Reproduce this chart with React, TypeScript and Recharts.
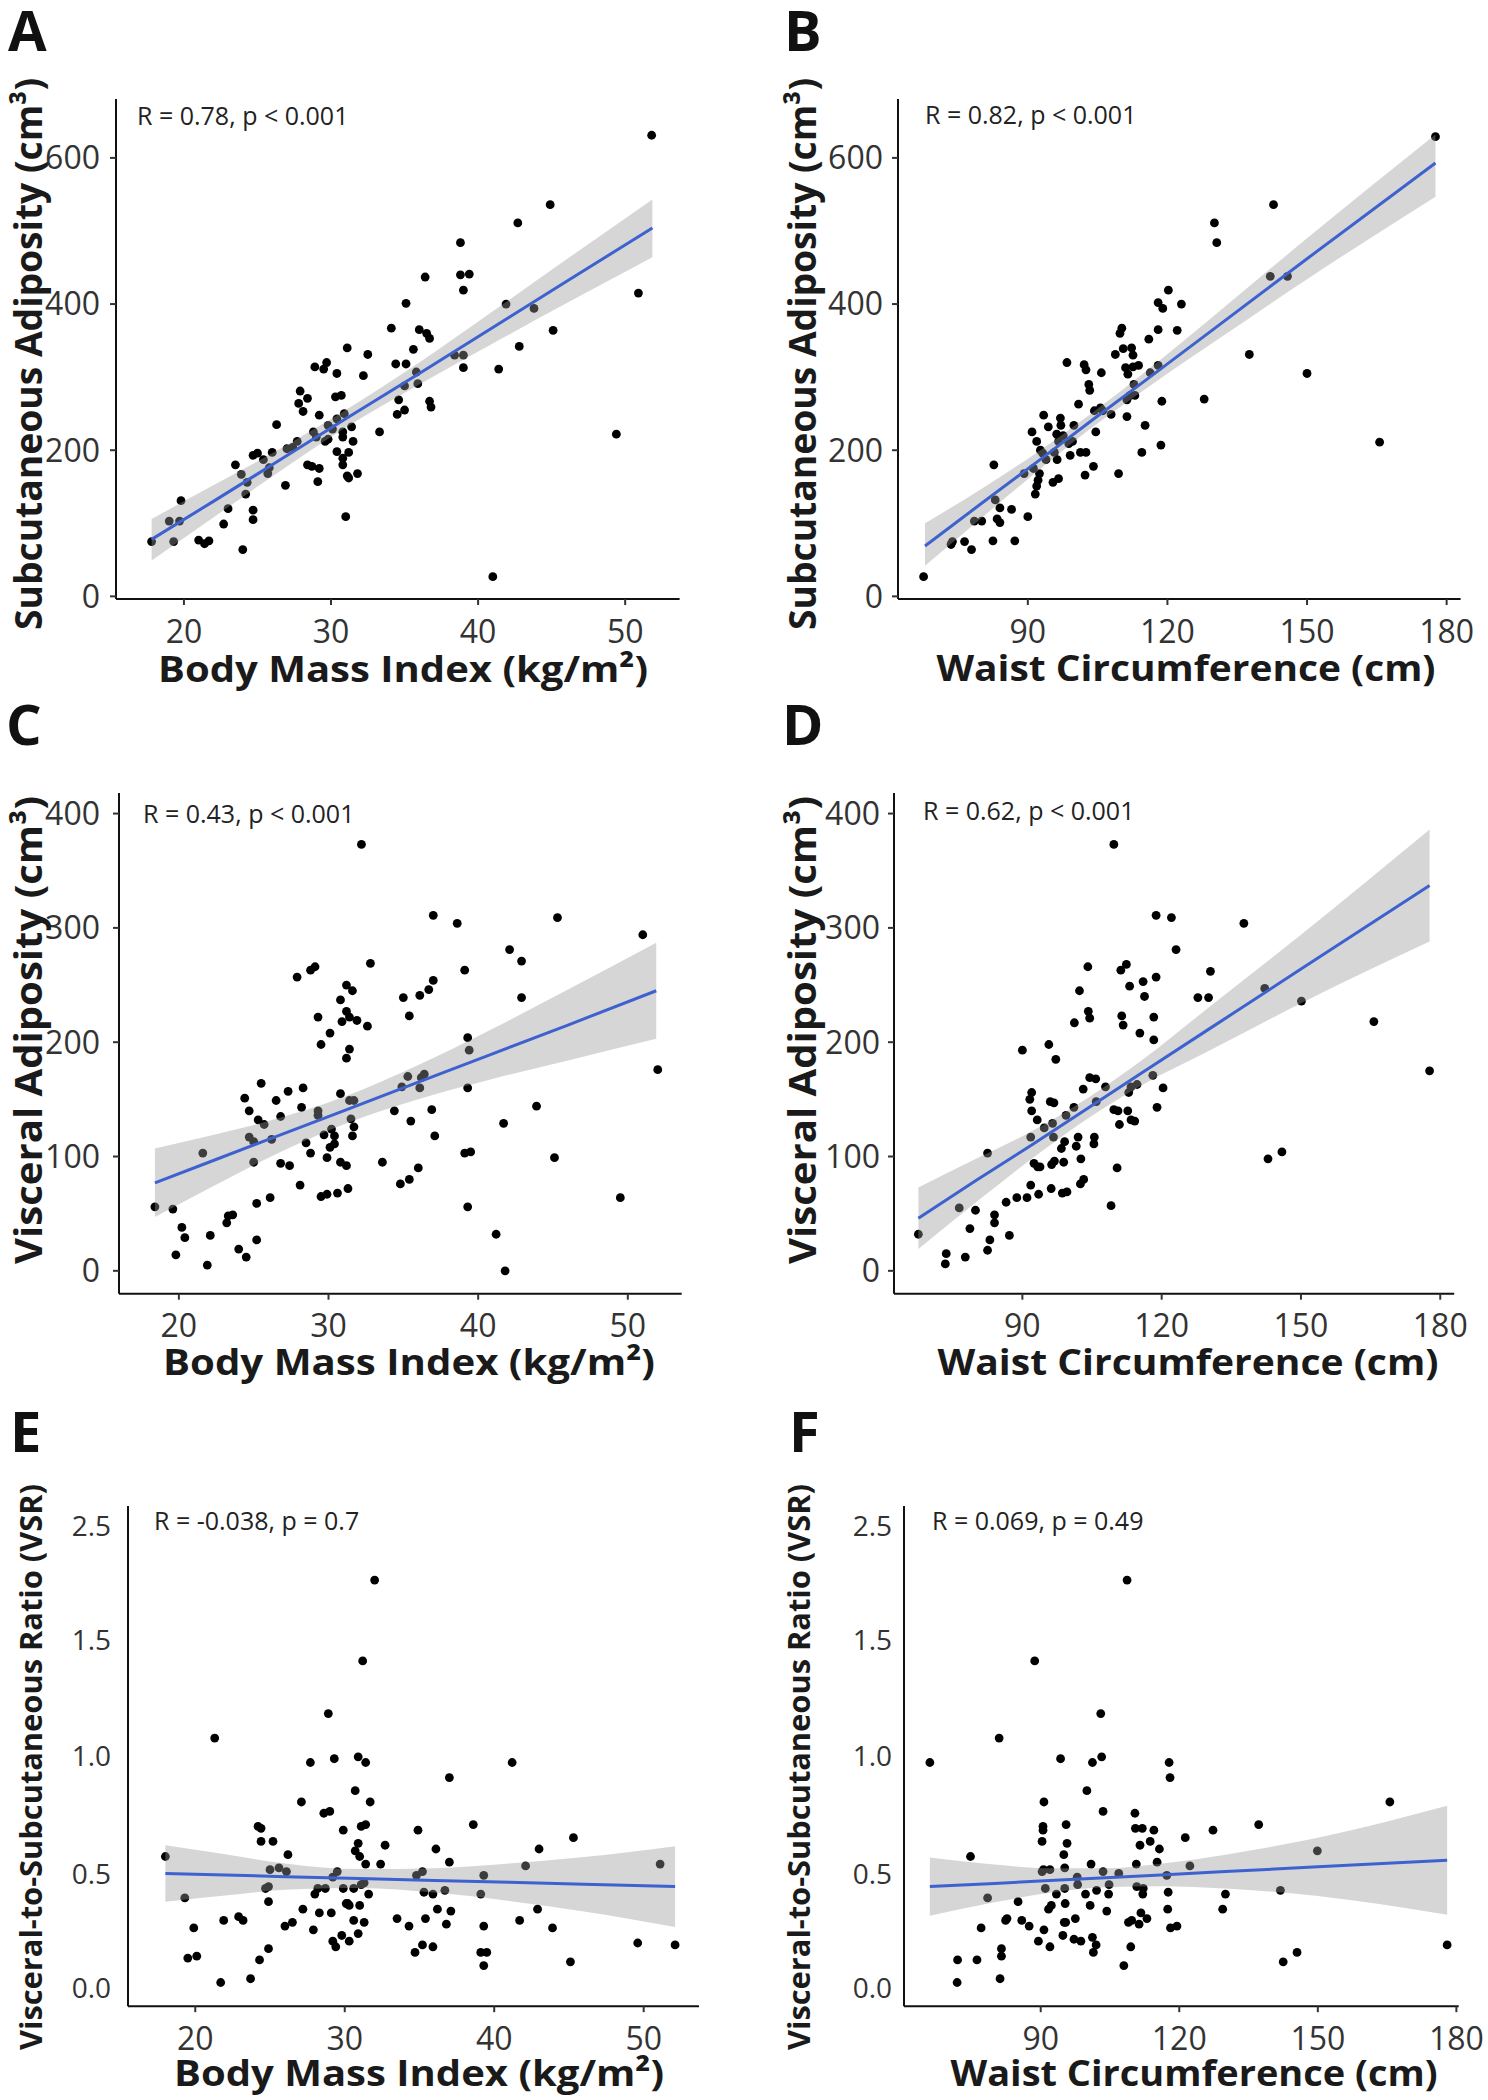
import React from 'react';
import { ComposedChart, Scatter, Area, Line, XAxis, YAxis, ReferenceLine } from 'recharts';

const FONT = '"Open Sans", "Noto Sans", sans-serif';
const INK = '#333333';
const FIT_BLUE = '#3D62CF';

// ---- A: BMI vs subcutaneous adiposity ----
const ptsA: [number, number][] = [
  [17.8, 75], [19.0, 103], [19.3, 75], [19.7, 103], [19.8, 131], [21.0, 77], [21.4, 72], [21.7, 76], [22.7, 99], [23.0, 120],
  [23.5, 180], [24.0, 64], [23.9, 167], [24.2, 140], [24.3, 156], [24.7, 118], [24.7, 105], [24.7, 193], [25.0, 196], [25.4, 187],
  [25.7, 168], [25.8, 176], [26.0, 197], [26.3, 235], [26.9, 152], [27.0, 202], [27.4, 204], [27.7, 212], [27.8, 264], [27.9, 281],
  [28.1, 253], [28.4, 271], [28.4, 180], [28.7, 178], [28.8, 225], [29.0, 218], [28.9, 314], [29.1, 157], [29.2, 248], [29.2, 175],
  [29.5, 311], [29.7, 320], [29.6, 212], [29.8, 215], [29.8, 234], [30.1, 229], [30.3, 273], [30.4, 305], [30.4, 198], [30.4, 243],
  [30.7, 275], [30.8, 225], [30.8, 189], [30.8, 180], [30.8, 218], [30.9, 250], [31.0, 109], [31.1, 340], [31.2, 197], [31.1, 165],
  [31.2, 162], [31.4, 232], [31.5, 212], [31.8, 168], [32.2, 302], [32.5, 331], [33.3, 225], [34.1, 367], [34.4, 318], [34.5, 249],
  [34.6, 269], [35.0, 255], [35.1, 401], [35.1, 318], [35.0, 288], [35.6, 338], [35.8, 307], [35.9, 291], [36.0, 365], [36.4, 437],
  [36.5, 360], [36.7, 353], [36.7, 267], [36.8, 259], [38.4, 330], [38.8, 484], [38.8, 440], [39.0, 330], [39.0, 419], [39.0, 313],
  [39.4, 441], [41.0, 27], [41.4, 311], [41.9, 400], [42.7, 511], [42.8, 342], [43.8, 394], [44.9, 536], [45.1, 364], [49.4, 222],
  [50.9, 415], [51.8, 631],
];
const fitXA = [17.8, 22, 26, 31, 36, 41, 46, 51.85];
const fitA = [78, 130, 180, 243, 305, 368, 431, 504];
const loA = [49, 108, 164, 231, 290, 346, 401, 464];
const hiA = [106, 152, 196, 255, 320, 390, 461, 543];

// ---- B: waist vs subcutaneous adiposity ----
const ptsB: [number, number][] = [
  [67.6, 27], [73.5, 71], [73.8, 75], [76.4, 75], [77.9, 64], [78.5, 103], [80.1, 103], [82.5, 76], [82.7, 180], [83.0, 132],
  [83.4, 106], [84.0, 121], [84.0, 101], [86.5, 119], [87.2, 76], [90.0, 109], [89.2, 168], [90.9, 225], [91.2, 175], [91.9, 212],
  [91.6, 140], [91.9, 151], [92.2, 159], [92.5, 168], [92.7, 200], [93.2, 196], [93.4, 248], [93.9, 187], [94.4, 232], [95.4, 156],
  [95.7, 197], [96.2, 222], [96.3, 187], [96.6, 161], [97.0, 244], [96.6, 212], [97.1, 234], [97.6, 220], [98.4, 320], [98.8, 209],
  [99.1, 193], [99.6, 212], [99.9, 234], [100.9, 263], [101.3, 197], [102.1, 317], [102.3, 166], [102.5, 197], [102.5, 310], [103.1, 290],
  [103.3, 282], [104.1, 178], [104.3, 254], [104.6, 225], [105.6, 258], [105.8, 306], [106.1, 254], [107.9, 249], [108.8, 331], [109.5, 168],
  [109.8, 360], [110.2, 367], [110.5, 339], [111.0, 313], [111.3, 246], [111.3, 269], [111.5, 304], [112.0, 275], [112.3, 340], [112.6, 330],
  [112.6, 314], [113.0, 275], [112.8, 290], [113.8, 316], [114.5, 197], [115.2, 234], [116.0, 352], [116.3, 306], [118.0, 365], [118.0, 402],
  [118.0, 316], [118.6, 207], [118.8, 267], [119.0, 394], [120.2, 419], [122.1, 364], [123.0, 400], [127.9, 270], [130.1, 511], [130.6, 484],
  [137.6, 331], [142.1, 438], [142.8, 536], [145.8, 438], [150.0, 305], [165.6, 211], [177.6, 629],
];
const fitXB = [67.9, 80, 92, 104, 116, 130, 150, 177.6];
const fitB = [69, 127, 184, 242, 299, 366, 462, 593];
const loB = [42, 107, 171, 232, 287, 348, 434, 547];
const hiB = [100, 147, 197, 252, 311, 384, 490, 632];

// ---- C: BMI vs visceral adiposity ----
const ptsC: [number, number][] = [
  [18.4, 56], [19.6, 54], [19.8, 14], [20.2, 38], [20.4, 29], [21.6, 103], [21.9, 5], [22.1, 31], [23.2, 42], [23.3, 48],
  [23.6, 49], [24.0, 19], [24.5, 12], [24.4, 151], [24.7, 140], [24.7, 117], [25.0, 95], [25.2, 27], [25.2, 59], [25.3, 132],
  [25.5, 164], [25.7, 128], [25.0, 113], [26.1, 64], [26.2, 115], [26.5, 149], [26.8, 135], [26.8, 94], [27.4, 92], [27.3, 157],
  [27.9, 257], [28.1, 75], [28.2, 143], [28.3, 160], [28.5, 112], [28.8, 103], [28.8, 263], [29.1, 266], [29.3, 222], [29.3, 136],
  [29.3, 140], [29.5, 65], [29.5, 198], [29.7, 119], [29.9, 99], [29.9, 67], [30.1, 208], [30.1, 108], [30.2, 124], [30.4, 118],
  [30.4, 111], [30.6, 68], [30.8, 155], [30.8, 95], [30.8, 237], [30.9, 218], [31.2, 92], [31.2, 227], [31.2, 186], [31.2, 250],
  [31.3, 72], [31.4, 194], [31.4, 222], [31.5, 133], [31.4, 149], [31.6, 245], [31.6, 118], [31.7, 149], [31.7, 126], [31.9, 219],
  [32.2, 373], [32.6, 214], [32.8, 269], [33.6, 95], [34.4, 140], [34.8, 76], [34.9, 161], [35.0, 239], [35.3, 170], [35.4, 223],
  [35.4, 80], [35.5, 131], [36.0, 90], [36.1, 241], [36.1, 160], [36.2, 169], [36.4, 172], [36.7, 246], [36.9, 141], [37.0, 254],
  [37.1, 118], [37.0, 311], [38.6, 304], [39.1, 103], [39.1, 263], [39.3, 204], [39.4, 193], [39.3, 160], [39.3, 56], [39.5, 104],
  [41.2, 32], [41.7, 129], [41.8, 0], [42.1, 281], [42.9, 271], [42.9, 239], [43.9, 144], [45.1, 99], [45.3, 309], [49.5, 64],
  [51.0, 294], [52.0, 176],
];
const fitXC = [18.4, 22, 26, 31, 36, 41, 46, 51.9];
const fitC = [77, 95, 115, 140, 165, 190, 215, 245];
const loC = [47, 72, 99, 128, 150, 168, 184, 203];
const hiC = [107, 118, 131, 152, 180, 212, 246, 287];

// ---- D: waist vs visceral adiposity ----
const ptsD: [number, number][] = [
  [67.6, 32], [73.4, 6], [73.6, 15], [76.4, 55], [77.7, 12], [78.7, 37], [79.9, 53], [82.5, 18], [82.5, 103], [83.0, 27],
  [84.0, 42], [84.0, 49], [86.5, 60], [87.2, 31], [88.8, 64], [90.0, 193], [91.0, 64], [91.8, 117], [91.6, 150], [92.0, 156],
  [92.0, 140], [91.8, 75], [92.5, 94], [93.2, 132], [93.3, 91], [93.5, 67], [93.8, 91], [94.7, 125], [95.7, 198], [96.0, 148],
  [96.2, 72], [96.3, 93], [96.5, 129], [96.7, 117], [96.8, 147], [96.9, 96], [97.2, 185], [98.4, 107], [98.6, 68], [98.9, 95],
  [99.1, 113], [99.4, 136], [99.6, 69], [101.1, 143], [101.2, 217], [101.6, 109], [102.0, 117], [102.3, 245], [102.5, 76], [102.6, 98],
  [103.1, 159], [103.2, 80], [104.1, 266], [104.2, 227], [104.5, 221], [104.5, 169], [105.4, 111], [105.5, 117], [105.8, 168], [105.9, 148],
  [107.9, 161], [109.1, 57], [109.7, 373], [109.7, 141], [110.4, 90], [110.6, 140], [110.9, 128], [111.2, 263], [111.4, 223], [111.7, 215],
  [112.4, 268], [112.7, 140], [112.9, 156], [113.1, 249], [113.4, 161], [113.4, 132], [114.2, 131], [114.7, 163], [115.3, 208], [116.0, 253],
  [116.3, 240], [118.1, 171], [118.3, 222], [118.3, 202], [118.8, 257], [118.8, 311], [119.0, 143], [120.3, 160], [122.1, 309], [123.1, 281],
  [127.8, 239], [130.1, 239], [130.5, 262], [137.7, 304], [142.2, 247], [142.9, 98], [145.9, 104], [150.1, 236], [165.7, 218], [177.7, 175],
];
const fitXD = [67.6, 80, 92, 104, 116, 130, 150, 177.7];
const fitD = [46, 79, 110, 142, 174, 211, 264, 337];
const loD = [19, 60, 98, 133, 163, 192, 234, 288];
const hiD = [73, 98, 122, 151, 185, 230, 294, 386];

// ---- E: BMI vs visceral-to-subcutaneous ratio ----
const ptsE: [number, number][] = [
  [18.0, 0.75], [19.3, 0.53], [19.5, 0.21], [19.9, 0.37], [20.1, 0.22], [21.3, 1.38], [21.7, 0.08], [21.9, 0.41], [22.9, 0.43], [23.2, 0.41],
  [23.7, 0.10], [24.2, 0.91], [24.4, 0.90], [24.4, 0.83], [24.3, 0.20], [24.7, 0.58], [24.9, 0.59], [24.9, 0.51], [24.9, 0.26], [25.0, 0.68],
  [25.2, 0.83], [25.6, 0.69], [26.0, 0.38], [26.1, 0.67], [26.2, 0.76], [26.5, 0.40], [27.1, 1.04], [27.2, 0.47], [27.7, 1.25], [27.9, 0.36],
  [28.0, 0.55], [28.2, 0.58], [28.3, 0.45], [28.6, 0.98], [28.7, 0.58], [28.9, 1.51], [29.0, 0.99], [29.1, 0.45], [29.2, 0.30], [29.2, 0.64],
  [29.3, 1.27], [29.4, 0.27], [29.5, 0.67], [29.8, 0.33], [29.9, 0.89], [29.9, 0.58], [30.1, 0.50], [30.2, 0.50], [30.3, 0.30], [30.3, 0.49],
  [30.6, 0.58], [30.6, 0.41], [30.7, 1.10], [30.7, 0.78], [30.9, 0.82], [30.9, 0.34], [30.9, 1.28], [31.0, 0.49], [31.0, 0.75], [31.1, 0.60],
  [31.1, 0.91], [31.2, 1.79], [31.3, 0.61], [31.3, 0.40], [31.4, 0.92], [31.4, 1.25], [31.4, 0.71], [31.6, 0.55], [31.7, 1.04], [32.0, 2.22],
  [32.4, 0.71], [32.7, 0.81], [33.5, 0.42], [34.3, 0.38], [34.7, 0.24], [34.8, 0.65], [34.9, 0.89], [35.2, 0.67], [35.2, 0.28], [35.3, 0.56],
  [35.4, 0.42], [35.9, 0.27], [35.9, 0.55], [36.1, 0.79], [36.2, 0.47], [36.7, 0.57], [36.8, 0.39], [37.0, 0.72], [37.0, 1.17], [37.1, 0.46],
  [38.6, 0.92], [39.1, 0.55], [39.3, 0.65], [39.1, 0.24], [39.3, 0.17], [39.3, 0.38], [39.5, 0.24], [41.2, 1.25], [41.7, 0.41], [42.1, 0.70],
  [42.9, 0.47], [43.0, 0.79], [43.9, 0.37], [45.1, 0.19], [45.3, 0.85], [49.6, 0.29], [51.1, 0.71], [52.1, 0.28],
];
const fitXE = [18, 22, 26, 31, 36, 41, 46, 52.1];
const fitE = [0.66, 0.652, 0.643, 0.633, 0.623, 0.613, 0.602, 0.59];
const loE = [0.51, 0.542, 0.573, 0.583, 0.558, 0.513, 0.457, 0.375];
const hiE = [0.81, 0.762, 0.713, 0.683, 0.688, 0.713, 0.747, 0.805];

// ---- F: waist vs visceral-to-subcutaneous ratio ----
const ptsF: [number, number][] = [
  [66.0, 1.25], [71.9, 0.08], [72.0, 0.20], [74.8, 0.75], [76.2, 0.20], [77.1, 0.37], [78.5, 0.53], [81.0, 1.38], [81.2, 0.10], [81.5, 0.26],
  [81.5, 0.22], [82.4, 0.41], [82.7, 0.42], [85.1, 0.51], [85.9, 0.41], [87.5, 0.38], [88.7, 1.79], [89.5, 0.30], [90.3, 0.67], [90.7, 0.36],
  [90.6, 0.68], [90.7, 1.04], [90.5, 0.91], [90.5, 0.89], [90.3, 0.83], [91.0, 0.58], [91.7, 0.47], [92.0, 0.27], [92.0, 0.68], [92.3, 0.49],
  [93.4, 0.55], [94.3, 1.27], [94.8, 0.33], [95.0, 0.76], [95.2, 0.69], [95.2, 0.58], [95.3, 0.50], [95.1, 0.40], [95.4, 0.40], [95.5, 0.92],
  [95.7, 0.82], [97.2, 0.31], [97.5, 0.42], [97.9, 0.64], [98.0, 0.60], [98.7, 0.30], [99.7, 0.55], [100.0, 1.10], [100.7, 0.49], [100.9, 0.71],
  [101.2, 1.25], [101.2, 0.32], [101.4, 0.24], [102.0, 0.28], [102.1, 0.57], [103.0, 1.51], [103.2, 1.28], [103.5, 0.99], [103.5, 0.67], [104.3, 0.46],
  [104.7, 0.55], [104.8, 0.60], [106.9, 0.66], [108.0, 0.17], [108.7, 2.22], [109.0, 0.40], [109.5, 0.27], [109.7, 0.41], [110.4, 0.98], [110.7, 0.71],
  [110.5, 0.90], [110.8, 0.59], [111.3, 0.39], [111.5, 0.81], [111.7, 0.45], [112.0, 0.90], [112.1, 0.55], [112.2, 0.58], [113.0, 0.42], [113.7, 0.83],
  [114.5, 0.89], [115.2, 0.72], [115.7, 0.79], [117.3, 0.65], [117.5, 0.47], [117.6, 0.56], [117.8, 1.25], [118.0, 1.17], [118.1, 0.37], [119.5, 0.38],
  [121.3, 0.85], [122.3, 0.70], [127.3, 0.89], [129.4, 0.47], [130.0, 0.55], [137.2, 0.92], [141.9, 0.57], [142.5, 0.19], [145.5, 0.24], [149.9, 0.78],
  [165.6, 1.04], [178.0, 0.28],
];
const fitXF = [66, 80, 92, 104, 116, 130, 150, 178];
const fitF = [0.59, 0.607, 0.622, 0.637, 0.652, 0.67, 0.695, 0.73];
const loF = [0.435, 0.507, 0.557, 0.587, 0.592, 0.58, 0.54, 0.44];
const hiF = [0.745, 0.707, 0.687, 0.687, 0.712, 0.76, 0.85, 1.02];

// axis ticks
const bmiTicks = [20, 30, 40, 50];
const waistTicks = [90, 120, 150, 180];
const subTicks = [0, 200, 400, 600];
const visTicks = [0, 100, 200, 300, 400];
const vsrTicks = [0, 0.5, 1, 1.5, 2, 2.5];
// VSR tick labels sit at their own heights
const vsrLabelAt = [0.053, 0.654, 1.283, 1.899, 2.506];
const vsrLabelText = ['0.0', '0.5', '1.0', '1.5', '2.5'];

const BMI_TITLE = 'Body Mass Index (kg/m²)';
const WAIST_TITLE = 'Waist Circumference (cm)';

type Panel = {
  id: string;
  plot: { l: number; t: number; r: number; b: number };
  xDomain: [number, number];
  yDomain: [number, number];
  xTicks: number[];
  yTicks: number[];
  yTickMargin: number;
  pts: [number, number][];
  fx: number[]; fit: number[]; lo: number[]; hi: number[];
  vsr?: { offset: number };
  letter: [number, number];
  note: { text: string; x: number; y: number };
  xTitle: { text: string; cx: number; y: number; len: number };
  yTitle: { text: string; x: number; cy: number; len: number; size: number };
};

const panels: Panel[] = [
  {
    id: 'A', plot: { l: 115.7, t: 99.3, r: 679.3, b: 599.3 },
    xDomain: [15.38, 53.7], yDomain: [-3.6, 680.6], xTicks: bmiTicks, yTicks: subTicks, yTickMargin: 10,
    pts: ptsA, fx: fitXA, fit: fitA, lo: loA, hi: hiA,
    letter: [8, 51],
    note: { text: 'R = 0.78, p < 0.001', x: 137, y: 125 },
    xTitle: { text: BMI_TITLE, cx: 403, y: 682, len: 490 },
    yTitle: { text: 'Subcutaneous Adiposity (cm³)', x: 42, cy: 354, len: 552, size: 38 },
  },
  {
    id: 'B', plot: { l: 898.4, t: 99.3, r: 1461, b: 599.3 },
    xDomain: [62.1, 183.0], yDomain: [-3.6, 680.6], xTicks: waistTicks, yTicks: subTicks, yTickMargin: 9,
    pts: ptsB, fx: fitXB, fit: fitB, lo: loB, hi: hiB,
    letter: [784, 51],
    note: { text: 'R = 0.82, p < 0.001', x: 925, y: 124 },
    xTitle: { text: WAIST_TITLE, cx: 1186, y: 681, len: 499 },
    yTitle: { text: 'Subcutaneous Adiposity (cm³)', x: 816, cy: 354, len: 552, size: 38 },
  },
  {
    id: 'C', plot: { l: 119.3, t: 793.3, r: 682, b: 1294 },
    xDomain: [16.0, 53.6], yDomain: [-20, 418], xTicks: bmiTicks, yTicks: visTicks, yTickMargin: 13,
    pts: ptsC, fx: fitXC, fit: fitC, lo: loC, hi: hiC,
    letter: [6, 745],
    note: { text: 'R = 0.43, p < 0.001', x: 143, y: 823 },
    xTitle: { text: BMI_TITLE, cx: 409, y: 1375, len: 492 },
    yTitle: { text: 'Visceral Adiposity (cm³)', x: 42, cy: 1030, len: 468, size: 38 },
  },
  {
    id: 'D', plot: { l: 893.8, t: 793.3, r: 1454, b: 1294 },
    xDomain: [62.35, 183.0], yDomain: [-20, 418], xTicks: waistTicks, yTicks: visTicks, yTickMargin: 8,
    pts: ptsD, fx: fitXD, fit: fitD, lo: loD, hi: hiD,
    letter: [782, 745],
    note: { text: 'R = 0.62, p < 0.001', x: 923, y: 820 },
    xTitle: { text: WAIST_TITLE, cx: 1188, y: 1375, len: 501 },
    yTitle: { text: 'Visceral Adiposity (cm³)', x: 816, cy: 1030, len: 468, size: 38 },
  },
  {
    id: 'E', plot: { l: 127.7, t: 1505.7, r: 698.7, b: 2005.9 },
    xDomain: [15.5, 53.7], yDomain: [-0.046, 2.614], xTicks: bmiTicks, yTicks: vsrTicks, yTickMargin: 10,
    pts: ptsE, fx: fitXE, fit: fitE, lo: loE, hi: hiE, vsr: { offset: 17 },
    letter: [10, 1452],
    note: { text: 'R = -0.038, p = 0.7', x: 154, y: 1530 },
    xTitle: { text: BMI_TITLE, cx: 419, y: 2086, len: 490 },
    yTitle: { text: 'Visceral-to-Subcutaneous Ratio (VSR)', x: 42, cy: 1767, len: 566, size: 30 },
  },
  {
    id: 'F', plot: { l: 904, t: 1505.7, r: 1458.7, b: 2005.9 },
    xDomain: [60.4, 180.5], yDomain: [-0.046, 2.614], xTicks: waistTicks, yTicks: vsrTicks, yTickMargin: 10,
    pts: ptsF, fx: fitXF, fit: fitF, lo: loF, hi: hiF, vsr: { offset: 12 },
    letter: [789, 1452],
    note: { text: 'R = 0.069, p = 0.49', x: 932, y: 1530 },
    xTitle: { text: WAIST_TITLE, cx: 1194, y: 2086, len: 487 },
    yTitle: { text: 'Visceral-to-Subcutaneous Ratio (VSR)', x: 810, cy: 1767, len: 566, size: 30 },
  },
];

const Dot = (props: any) => <circle cx={props.cx} cy={props.cy} r={4.4} fill="#000" />;

const Y_W = 110;
const X_H = 62;
const PAD_T = 12;
const PAD_R = 28;

function ScatterPanel({ p }: { p: Panel }) {
  const left = p.plot.l - Y_W;
  const top = p.plot.t - PAD_T;
  const width = p.plot.r - left + PAD_R;
  const height = p.plot.b - top + X_H;
  const rows = p.fx.map((x, i) => ({ x, band: [p.lo[i], p.hi[i]], fit: p.fit[i] }));
  const points = p.pts.map(([x, y]) => ({ x, y }));
  const tickStyle = { fontSize: 32, fill: INK, fontFamily: FONT };

  return (
    <div style={{ position: 'absolute', left, top }}>
      <ComposedChart width={width} height={height} data={rows} margin={{ top: PAD_T, right: PAD_R, bottom: 0, left: 0 }}>
        <XAxis
          type="number" dataKey="x" domain={p.xDomain} ticks={p.xTicks} allowDataOverflow height={X_H}
          axisLine={{ stroke: '#111', strokeWidth: 2 }} tickLine={{ stroke: INK, strokeWidth: 2 }}
          tickSize={6} tickMargin={15} tick={tickStyle} interval={0}
        />
        <YAxis
          type="number" dataKey="y" domain={p.yDomain} ticks={p.yTicks} allowDataOverflow width={Y_W}
          axisLine={{ stroke: '#111', strokeWidth: 2 }} tickLine={{ stroke: INK, strokeWidth: 2 }}
          tickSize={p.vsr ? 5 : 6} tickMargin={p.yTickMargin} tick={p.vsr ? false : tickStyle} interval={0}
        />
        {/* points go under the ribbon so the ones it covers turn grey */}
        <Scatter data={points} shape={Dot} isAnimationActive={false} zIndex={50} />
        <Area
          dataKey="band" type="monotone" stroke="none" fill="#999999" fillOpacity={0.4}
          isAnimationActive={false} activeDot={false} zIndex={100}
        />
        <Line
          dataKey="fit" type="linear" stroke={FIT_BLUE} strokeWidth={3} dot={false} activeDot={false}
          isAnimationActive={false} zIndex={400}
        />
        {p.vsr &&
          vsrLabelAt.map((v, i) => (
            <ReferenceLine
              key={v} y={v} stroke="none" ifOverflow="visible"
              label={{ value: vsrLabelText[i], position: 'left', offset: p.vsr!.offset, fill: INK, fontSize: 28, fontFamily: FONT }}
            />
          ))}
      </ComposedChart>
    </div>
  );
}

export default function App() {
  return (
    <div style={{ position: 'relative', width: 1488, height: 2100, background: '#fff', overflow: 'hidden' }}>
      <style>{'body{margin:0}'}</style>
      {panels.map((p) => (
        <ScatterPanel key={p.id} p={p} />
      ))}
      <svg width={1488} height={2100} style={{ position: 'absolute', left: 0, top: 0, pointerEvents: 'none' }}>
        {panels.map((p) => (
          <g key={p.id} fontFamily={FONT}>
            <text x={p.letter[0]} y={p.letter[1]} fontSize={56} fontWeight={700} fill="#111">
              {p.id}
            </text>
            <text x={p.note.x} y={p.note.y} fontSize={25} fill="#222">
              {p.note.text}
            </text>
            <text
              x={p.xTitle.cx} y={p.xTitle.y} textAnchor="middle" fontSize={36} fontWeight={700} fill="#1a1a1a"
              textLength={p.xTitle.len} lengthAdjust="spacingAndGlyphs"
            >
              {p.xTitle.text}
            </text>
            <text
              x={p.yTitle.x} y={p.yTitle.cy} transform={`rotate(-90 ${p.yTitle.x} ${p.yTitle.cy})`} textAnchor="middle"
              fontSize={p.yTitle.size} fontWeight={700} fill="#1a1a1a" textLength={p.yTitle.len} lengthAdjust="spacingAndGlyphs"
            >
              {p.yTitle.text}
            </text>
          </g>
        ))}
      </svg>
    </div>
  );
}
